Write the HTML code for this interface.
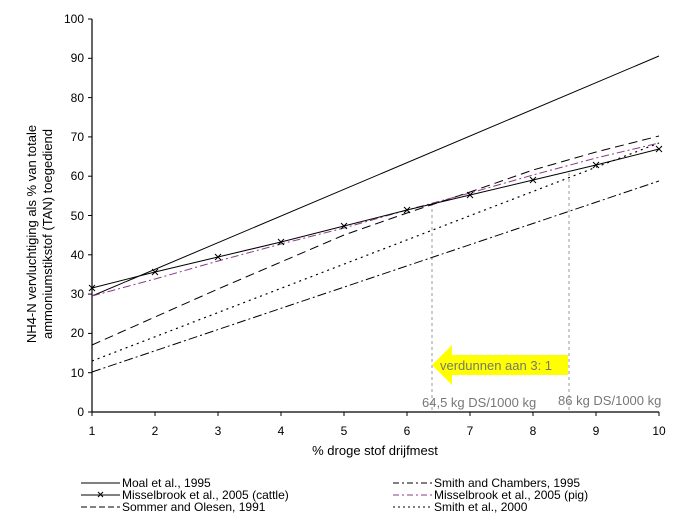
<!DOCTYPE html>
<html><head><meta charset="utf-8"><style>
html,body{margin:0;padding:0;background:#fff;}
svg{display:block;font-family:"Liberation Sans",Arial,sans-serif;}
</style></head><body>
<svg width="684" height="528" viewBox="0 0 684 528">
<rect width="684" height="528" fill="#fff"/>
<line x1="92" y1="19" x2="92" y2="412" stroke="#000" stroke-width="1.2"/>
<line x1="92" y1="412" x2="659" y2="412" stroke="#000" stroke-width="1.2"/>
<g stroke="#000" stroke-width="1">
<line x1="88" y1="19" x2="92" y2="19"/><line x1="88" y1="58.3" x2="92" y2="58.3"/><line x1="88" y1="97.6" x2="92" y2="97.6"/><line x1="88" y1="136.9" x2="92" y2="136.9"/><line x1="88" y1="176.2" x2="92" y2="176.2"/><line x1="88" y1="215.5" x2="92" y2="215.5"/><line x1="88" y1="254.8" x2="92" y2="254.8"/><line x1="88" y1="294.1" x2="92" y2="294.1"/><line x1="88" y1="333.4" x2="92" y2="333.4"/><line x1="88" y1="372.7" x2="92" y2="372.7"/><line x1="88" y1="412" x2="92" y2="412"/>
<line x1="92" y1="412" x2="92" y2="416"/><line x1="155" y1="412" x2="155" y2="416"/><line x1="218" y1="412" x2="218" y2="416"/><line x1="281" y1="412" x2="281" y2="416"/><line x1="344" y1="412" x2="344" y2="416"/><line x1="407" y1="412" x2="407" y2="416"/><line x1="470" y1="412" x2="470" y2="416"/><line x1="533" y1="412" x2="533" y2="416"/><line x1="596" y1="412" x2="596" y2="416"/><line x1="659" y1="412" x2="659" y2="416"/>
</g>
<g font-size="12" fill="#000" text-anchor="end">
<text x="84" y="23">100</text><text x="84" y="62">90</text><text x="84" y="102">80</text><text x="84" y="141">70</text><text x="84" y="180">60</text><text x="84" y="220">50</text><text x="84" y="259">40</text><text x="84" y="298">30</text><text x="84" y="337">20</text><text x="84" y="377">10</text><text x="84" y="416">0</text>
</g>
<g font-size="12" fill="#000" text-anchor="middle">
<text x="92" y="435">1</text><text x="155" y="435">2</text><text x="218" y="435">3</text><text x="281" y="435">4</text><text x="344" y="435">5</text><text x="407" y="435">6</text><text x="470" y="435">7</text><text x="533" y="435">8</text><text x="596" y="435">9</text><text x="659" y="435">10</text>
</g>
<text x="375" y="455" font-size="13" text-anchor="middle" fill="#000">% droge stof drijfmest</text>
<g font-size="13" fill="#000" text-anchor="middle" transform="rotate(-90)">
<text x="-234" y="36">NH4-N vervluchtiging als % van totale</text>
<text x="-234" y="52">ammoniumstikstof (TAN) toegediend</text>
</g>
<line x1="432" y1="203" x2="432" y2="412" stroke="#999" stroke-dasharray="3,3"/>
<line x1="569" y1="173" x2="569" y2="412" stroke="#999" stroke-dasharray="3,3"/>
<polyline fill="none" stroke="#000" stroke-width="1" points="92,296 659,56"/>
<polyline fill="none" stroke="#000" stroke-width="1" points="92,372 659,181" stroke-dasharray="9,3,2,3"/>
<polyline fill="none" stroke="#000" stroke-width="1.2" points="92,361 659,143" stroke-dasharray="2,4"/>
<polyline fill="none" stroke="#000" stroke-width="1" points="92,345 155,317 218,289 281,262 344,235 407,213 470,192 533,170 596,152 659,136" stroke-dasharray="9,5"/>
<polyline fill="none" stroke="#8a3a8a" stroke-width="1" points="92,296 155,279 218,261 281,244 344,228 407,210 470,193 533,175 596,158 659,143" stroke-dasharray="8,3,2,3"/>
<polyline fill="none" stroke="#000" stroke-width="1" points="92,288 155,272 218,257 281,242 344,226 407,210 470,195 533,180 596,165 659,149"/>
<g stroke="#000" stroke-width="1">
<path d="M89,285l6,6M95,285l-6,6M152,269l6,6M158,269l-6,6M215,254l6,6M221,254l-6,6M278,239l6,6M284,239l-6,6M341,223l6,6M347,223l-6,6M404,207l6,6M410,207l-6,6M467,192l6,6M473,192l-6,6M530,177l6,6M536,177l-6,6M593,162l6,6M599,162l-6,6M656,146l6,6M662,146l-6,6"/>
</g>
<polygon points="432,365 452,345 452,355 568,355 568,375 452,375 452,385" fill="#ffff00"/>
<text x="440" y="370" font-size="13" fill="#777">verdunnen aan 3: 1</text>
<text x="422" y="407" font-size="13" fill="#777">64,5 kg DS/1000 kg</text>
<text x="558" y="405" font-size="13" fill="#777">86 kg DS/1000 kg</text>
<g font-size="12" fill="#000">
<line x1="81" y1="483" x2="120" y2="483" stroke="#000"/>
<text x="122" y="487">Moal et al., 1995</text>
<line x1="81" y1="495" x2="120" y2="495" stroke="#000"/>
<path d="M98,492l5,5M103,492l-5,5" stroke="#000"/>
<text x="122" y="499">Misselbrook et al., 2005 (cattle)</text>
<line x1="81" y1="507" x2="120" y2="507" stroke="#000" stroke-dasharray="6,3"/>
<text x="122" y="511">Sommer and Olesen, 1991</text>
<line x1="393" y1="483" x2="432" y2="483" stroke="#000" stroke-dasharray="6,3,2,3"/>
<text x="434" y="487">Smith and Chambers, 1995</text>
<line x1="393" y1="495" x2="432" y2="495" stroke="#8a3a8a" stroke-dasharray="6,3,2,3"/>
<text x="434" y="499">Misselbrook et al., 2005 (pig)</text>
<line x1="393" y1="507" x2="432" y2="507" stroke="#000" stroke-dasharray="2,3"/>
<text x="434" y="511">Smith et al., 2000</text>
</g>
</svg>
</body></html>
